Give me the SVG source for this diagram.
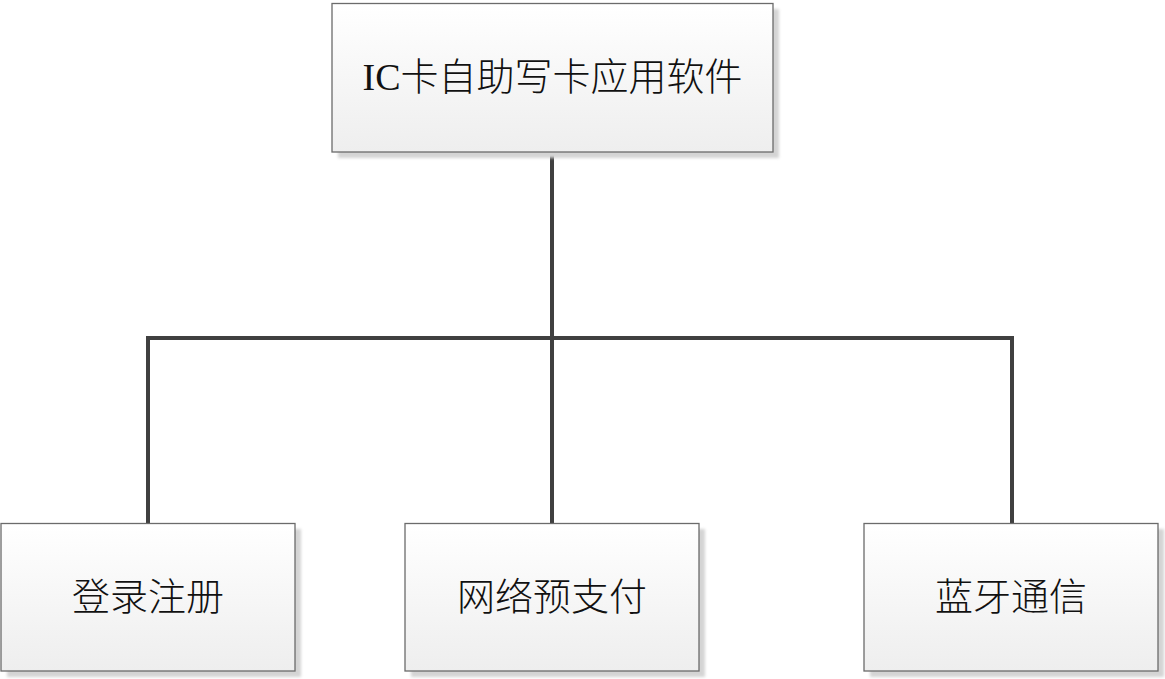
<svg xmlns="http://www.w3.org/2000/svg" width="1165" height="679" viewBox="0 0 1165 679">
<defs>
<linearGradient id="g" x1="0" y1="0" x2="0" y2="1">
<stop offset="0" stop-color="#ffffff"/>
<stop offset="1" stop-color="#eeeeee"/>
</linearGradient>
<filter id="blur" x="-5%" y="-5%" width="110%" height="110%"><feGaussianBlur stdDeviation="1.5"/></filter>
</defs>
<style>
.shadow{fill:#d4d4d4;filter:url(#blur)}
.box{fill:url(#g);stroke:#6b6b6b;stroke-width:1.3}
.lbl{font-family:"Liberation Serif","Noto Sans CJK SC",serif;font-size:38px;font-weight:300;fill:#111;text-anchor:middle;dominant-baseline:central}
.conn{fill:none;stroke:#404040;stroke-width:4;stroke-linecap:round;stroke-linejoin:miter}
</style>
<rect width="1165" height="679" fill="#ffffff"/>
<g id="connectors">
<path class="conn" d="M552 152 V338"/>
<path class="conn" d="M148 523 V338 H1012 V523"/>
<path class="conn" d="M552 338 V523"/>
</g>
<g id="root">
<rect class="shadow" x="338" y="9" width="441" height="149"/>
<rect class="box" x="332" y="3.5" width="441" height="148.5"/>
<text class="lbl" x="552.5" y="77">IC卡自助写卡应用软件</text>
</g>
<g id="login">
<rect class="shadow" x="7" y="529" width="294" height="148"/>
<rect class="box" x="1" y="523.5" width="294" height="147.5"/>
<text class="lbl" x="148" y="597">登录注册</text>
</g>
<g id="pay">
<rect class="shadow" x="411" y="529" width="294" height="148"/>
<rect class="box" x="405" y="523.5" width="294" height="147.5"/>
<text class="lbl" x="552" y="597">网络预支付</text>
</g>
<g id="bluetooth">
<rect class="shadow" x="870" y="529" width="294" height="148"/>
<rect class="box" x="864" y="523.5" width="294" height="147.5"/>
<text class="lbl" x="1011" y="597">蓝牙通信</text>
</g>
</svg>
